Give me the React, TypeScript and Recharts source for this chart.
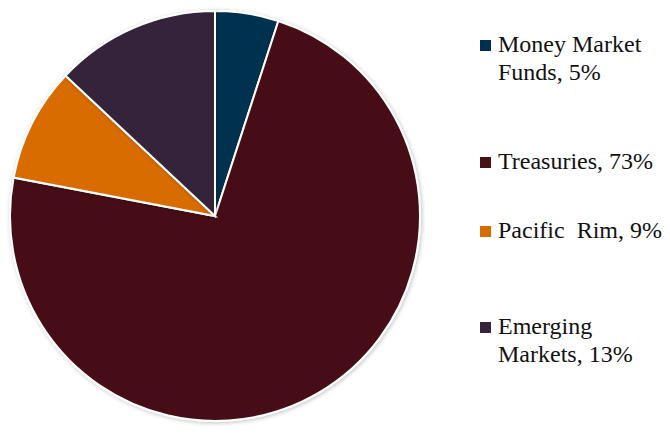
import React from "react";
import { PieChart, Pie, Cell } from "recharts";

const categories = ["Money Market Funds", "Treasuries", "Pacific Rim", "Emerging Markets"];
const values = [5, 73, 9, 13];
const colors = ["#00304f", "#461117", "#d86c00", "#35243a"];
const legendLines = [
  ["Money Market", "Funds, 5%"],
  ["Treasuries, 73%"],
  ["Pacific\u00a0 Rim, 9%"],
  ["Emerging", "Markets, 13%"],
];
const legendTops = [30, 147, 216, 312];

const data = categories.map((name, i) => ({ name, value: values[i] }));

export default function App() {
  return (
    <div style={{ position: "absolute", left: 0, top: 0, width: 670, height: 435, background: "#fff" }}>
      <PieChart width={670} height={435} margin={{ top: 0, right: 0, bottom: 0, left: 0 }}>
        <defs>
          <filter id="sh" x="-10%" y="-10%" width="120%" height="120%">
            <feDropShadow dx="1" dy="1" stdDeviation="2" floodColor="#000" floodOpacity="0.25" />
          </filter>
        </defs>
        <Pie
          data={data}
          dataKey="value"
          cx={215}
          cy={216}
          outerRadius={205}
          startAngle={90}
          endAngle={-270}
          stroke="#fff"
          strokeWidth={2}
          isAnimationActive={false}
          style={{ filter: "url(#sh)" }}
        >
          {data.map((d, i) => (
            <Cell key={d.name} fill={colors[i]} />
          ))}
        </Pie>
      </PieChart>
      {legendLines.map((lines, i) => (
        <div key={i} style={{ position: "absolute", left: 480, top: legendTops[i] }}>
          <div style={{ position: "absolute", left: 0, top: 10, width: 11, height: 11, background: colors[i] }} />
          <div
            style={{
              position: "absolute",
              left: 18,
              top: 0,
              whiteSpace: "nowrap",
              fontFamily: "'Times New Roman', 'Liberation Serif', 'DejaVu Serif', Times, serif",
              fontSize: 24,
              lineHeight: "28px",
              color: "#111",
            }}
          >
            {lines.map((l, j) => (
              <div key={j}>{l}</div>
            ))}
          </div>
        </div>
      ))}
    </div>
  );
}
